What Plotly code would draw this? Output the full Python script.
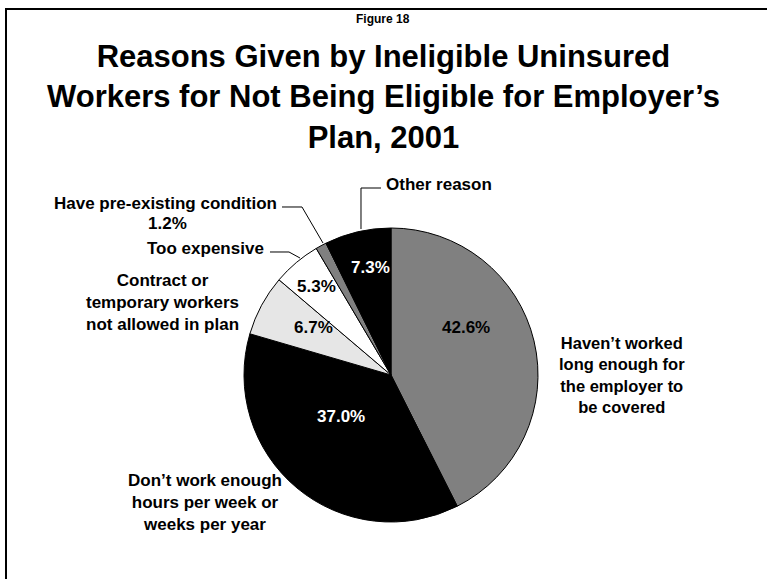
import plotly.graph_objects as go

# ---- data ----
categories = [
    "Haven't worked long enough for the employer to be covered",
    "Don't work enough hours per week or weeks per year",
    "Contract or temporary workers not allowed in plan",
    "Too expensive",
    "Have pre-existing condition",
    "Other reason",
]
values = [42.6, 37.0, 6.7, 5.3, 1.2, 7.3]
slice_colors = ["#808080", "#000000", "#E6E6E6", "#FFFFFF", "#808080", "#000000"]
pct_text_colors = ["black", "white", "black", "black", "black", "white"]

W, H = 767, 579
FONT = "Arial, 'Liberation Sans', Helvetica, sans-serif"


def px(x, y):
    return x / W, 1 - y / H


# pie geometry (pixels)
cx, cy, r = 391, 375, 147
fig = go.Figure()
fig.add_trace(go.Pie(
    labels=categories,
    values=values,
    sort=False,
    direction="clockwise",
    rotation=0,
    marker=dict(colors=slice_colors, line=dict(color="black", width=1)),
    textinfo="none",
    hoverinfo="label+percent",
    showlegend=False,
    domain=dict(x=[(cx - r) / W, (cx + r) / W], y=[(H - cy - r) / H, (H - cy + r) / H]),
))

annotations = []


def add_text(text, x, y, size=17, color="black", xanchor="center"):
    ax, ay = px(x, y)
    annotations.append(dict(
        text=text, x=ax, y=ay, xref="paper", yref="paper", showarrow=False,
        xanchor=xanchor, yanchor="middle", align="center",
        font=dict(family=FONT, size=size, color=color),
    ))


# titles
add_text("<b>Figure 18</b>", 383, 19, size=12)
add_text("<b>Reasons Given by Ineligible Uninsured<br>Workers for Not Being Eligible for Employer’s<br>Plan, 2001</b>",
         383, 97, size=31)

# percentage labels inside slices (positions are layout)
pct_pos = [(466, 327), (341, 416), (313, 327), (316, 286), None, (370, 268)]
for v, pos, c in zip(values, pct_pos, pct_text_colors):
    if pos is not None:
        add_text(f"<b>{v:.1f}%</b>", pos[0], pos[1], size=17, color=c)

# outside category labels
add_text("<b>Haven’t worked<br>long enough for<br>the employer to<br>be covered</b>", 622, 375, size=16.5)
add_text("<b>Don’t work enough<br>hours per week or<br>weeks per year</b>", 205, 502)
add_text("<b>Contract or<br>temporary workers<br>not allowed in plan</b>", 162, 302)
add_text("<b>Too expensive</b>", 266, 249, xanchor="right")
add_text("<b>Have pre-existing condition</b>", 279, 203, xanchor="right")
add_text(f"<b>{values[4]:.1f}%</b>", 167, 224)
add_text("<b>Other reason</b>", 384, 185, xanchor="left")

shapes = []


def leader(points):
    path = ""
    for i, (x, y) in enumerate(points):
        X, Y = px(x, y)
        path += ("M" if i == 0 else "L") + f" {X:.5f},{Y:.5f} "
    shapes.append(dict(type="path", path=path, xref="paper", yref="paper",
                       line=dict(color="black", width=1)))


leader([(381, 188), (361, 188), (361, 229)])
leader([(282, 207), (302, 207), (323, 243)])
leader([(270, 252), (289, 252), (300, 258)])

# frame
x0, y0 = px(6, 9)
shapes.append(dict(type="rect", xref="paper", yref="paper", x0=x0, y0=y0, x1=1.1, y1=-0.1,
                   line=dict(color="black", width=2), fillcolor="rgba(0,0,0,0)"))

fig.update_layout(
    width=W, height=H,
    margin=dict(l=0, r=0, t=0, b=0),
    paper_bgcolor="white", plot_bgcolor="white",
    annotations=annotations, shapes=shapes,
    font=dict(family=FONT),
)

fig.write_html("out.html")
